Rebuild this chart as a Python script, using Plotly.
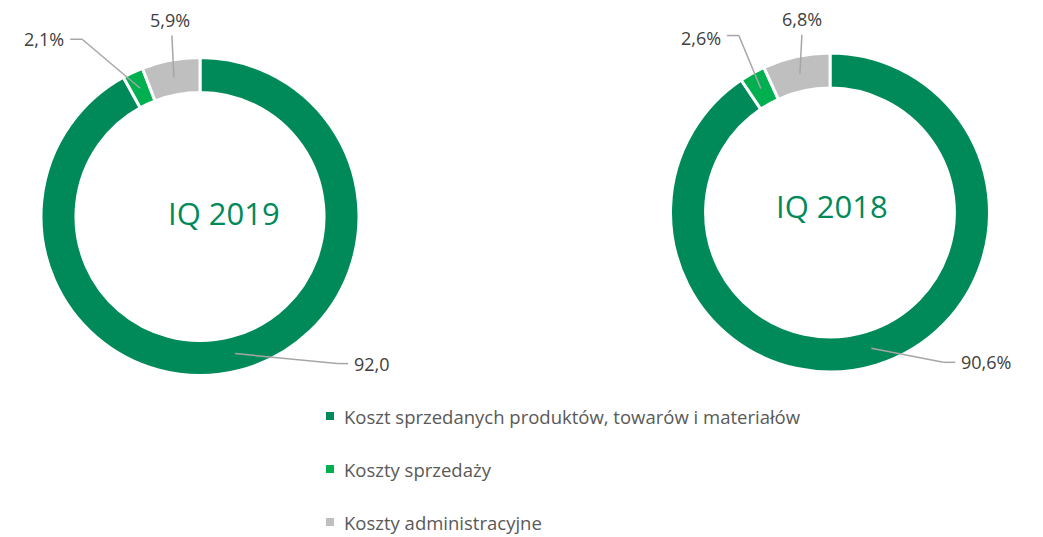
import math
import plotly.graph_objects as go

# ---------------- data ----------------
categories = ["Koszt sprzedanych produktów, towarów i materiałów",
              "Koszty sprzedaży",
              "Koszty administracyjne"]
values_2019 = [92.0, 2.1, 5.9]
values_2018 = [90.6, 2.6, 6.8]
text_2019 = ["92,0", "2,1%", "5,9%"]
text_2018 = ["90,6%", "2,6%", "6,8%"]
titles = ["IQ 2019", "IQ 2018"]

# ---------------- style ----------------
W, H = 1043, 537          # browser window
OFF = 8                   # default page body margin
FW, FH = W - OFF, H - OFF
colors = ["#008A5A", "#00B050", "#BFBFBF"]
TEXT = "#404040"
LINE = "#A6A6A6"
FONT = "Open Sans"
HOLE = 0.78

charts = [
    dict(vals=values_2019, txt=text_2019, title=titles[0], cx=200, cy=216.5, r=159,
         tshift=(24, -4),
         # label layout (pixel offsets relative to slice anchor)
         lay=[dict(elbow=(102, 10), end=(113, 10), tpos=(117, 10), anchor="left"),
              dict(elbow=(-58, -49), end=(-70, -49), tpos=(-74, -49), anchor="right"),
              dict(elbow=(-2, -42), end=(-2, -42), tpos=(-4, -57), anchor="center")]),
    dict(vals=values_2018, txt=text_2018, title=titles[1], cx=830, cy=212.5, r=159.5,
         tshift=(2, -6),
         lay=[dict(elbow=(72, 14), end=(84, 14), tpos=(88, 14), anchor="left"),
              dict(elbow=(-22, -53), end=(-34, -53), tpos=(-38, -51), anchor="right"),
              dict(elbow=(2, -39), end=(2, -39), tpos=(2, -55), anchor="center")]),
]


def px(x):
    return (x - OFF) / FW


def py(y):
    return 1 - (y - OFF) / FH


fig = go.Figure()
shapes = []
annotations = []

for ch in charts:
    cx, cy, r = ch["cx"], ch["cy"], ch["r"]
    fig.add_trace(go.Pie(
        labels=categories, values=ch["vals"], sort=False, direction="clockwise",
        rotation=0, hole=HOLE, textinfo="none", hoverinfo="label+value",
        marker=dict(colors=colors, line=dict(color="white", width=3)),
        domain=dict(x=[px(cx - r), px(cx + r)], y=[py(cy + r), py(cy - r)]),
        showlegend=False,
    ))
    annotations.append(dict(x=px(cx + ch["tshift"][0]), y=py(cy + ch["tshift"][1]),
                            xref="paper", yref="paper",
                            text=ch["title"], showarrow=False,
                            font=dict(family=FONT, size=31, color="#008A5A"),
                            xanchor="center", yanchor="middle"))
    total = sum(ch["vals"])
    cum = 0.0
    rmid = r * (1 + HOLE) / 2
    for v, t, lay in zip(ch["vals"], ch["txt"], ch["lay"]):
        frac = (cum + v / 2) / total
        cum += v
        ang = 2 * math.pi * frac
        ax = cx + rmid * math.sin(ang)
        ay = cy - rmid * math.cos(ang)
        ex, ey = ax + lay["elbow"][0], ay + lay["elbow"][1]
        nx, ny = ax + lay["end"][0], ay + lay["end"][1]
        shapes.append(dict(type="line", xref="paper", yref="paper",
                           x0=px(ax), y0=py(ay), x1=px(ex), y1=py(ey),
                           line=dict(color=LINE, width=1.5)))
        if (nx, ny) != (ex, ey):
            shapes.append(dict(type="line", xref="paper", yref="paper",
                               x0=px(ex), y0=py(ey), x1=px(nx), y1=py(ny),
                               line=dict(color=LINE, width=1.5)))
        tx, ty = ax + lay["tpos"][0], ay + lay["tpos"][1]
        annotations.append(dict(x=px(tx), y=py(ty), xref="paper", yref="paper",
                                text=t, showarrow=False,
                                font=dict(family=FONT, size=18, color=TEXT),
                                xanchor=lay["anchor"], yanchor="middle"))

# custom legend
leg_x, leg_y0, leg_dy = 330, 416, 53
for i, (cat, col) in enumerate(zip(categories, colors)):
    y = leg_y0 + i * leg_dy
    shapes.append(dict(type="rect", xref="paper", yref="paper",
                       x0=px(leg_x - 4), x1=px(leg_x + 4), y0=py(y + 4), y1=py(y - 4),
                       fillcolor=col, line=dict(width=0)))
    annotations.append(dict(x=px(leg_x + 12), y=py(y), xref="paper", yref="paper",
                            text=cat, showarrow=False,
                            font=dict(family=FONT, size=18.5, color="#595959"),
                            xanchor="left", yanchor="middle"))

fig.update_layout(width=FW, height=FH, margin=dict(l=0, r=0, t=0, b=0),
                  paper_bgcolor="white", plot_bgcolor="white",
                  shapes=shapes, annotations=annotations, showlegend=False)

fig.write_html("out.html")
